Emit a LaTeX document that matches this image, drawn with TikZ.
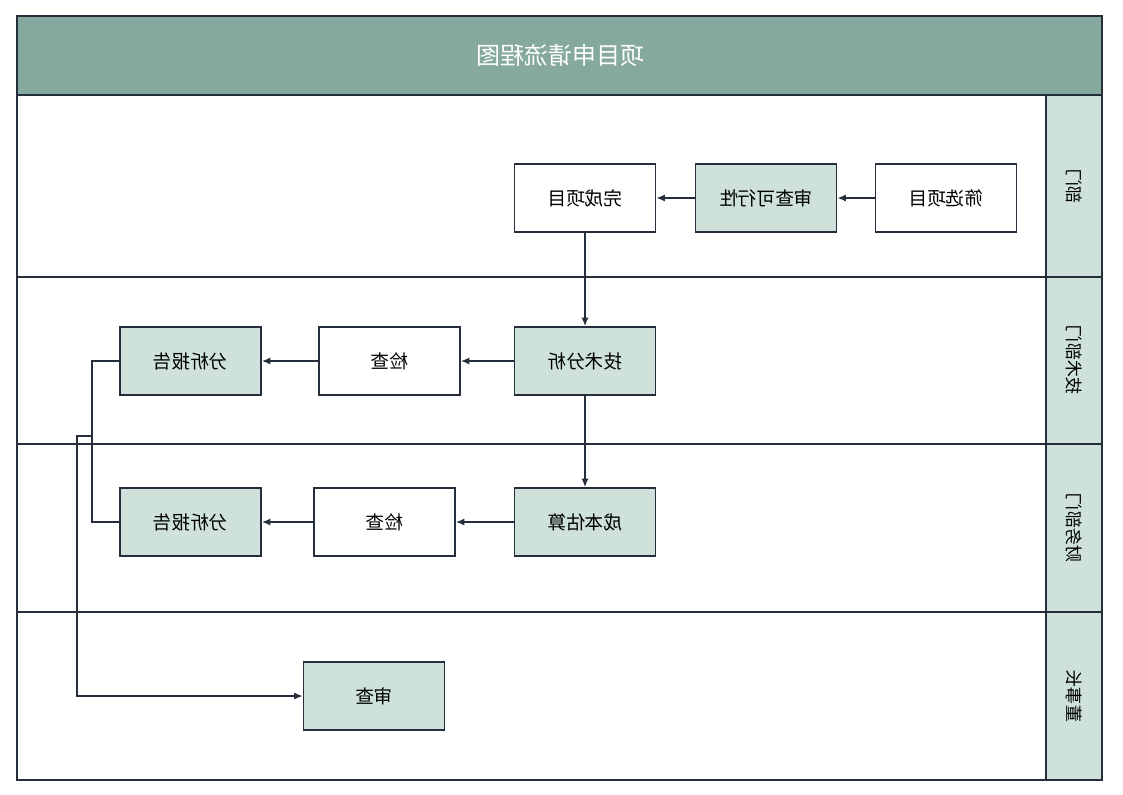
\documentclass[tikz,border=0pt]{standalone}
\usepackage{fontspec}
\usepackage{graphicx}
\setmainfont{Noto Sans CJK SC}
\usetikzlibrary{arrows.meta}
\definecolor{titlebg}{HTML}{86A99F}
\definecolor{lightbg}{HTML}{CEE2DB}
\definecolor{edge}{HTML}{262E3B}
\newcommand{\mirtext}[1]{\reflectbox{#1}}

\begin{document}
\begin{tikzpicture}[x=0.75pt,y=-0.75pt,
        lane/.style={draw=edge,line width=1.3pt},
        box/.style={draw=edge,line width=1.2pt,fill=white,minimum width=105.75pt,
            minimum height=51pt,inner sep=0pt,font=\fontsize{14}{16}\selectfont},
        greenbox/.style={box,fill=lightbg},
        lanelabel/.style={rotate=-90,font=\fontsize{13}{15}\selectfont},
        link/.style={draw=edge,line width=1.5pt},
        arr/.style={link,-{Latex[length=6.5pt,width=5.5pt]}}]
            \useasboundingbox (0,0) rectangle (1123,794);
            \fill[white] (0,0) rectangle (1123,794);
            % title and lanes
            \fill[titlebg] (17,16) rectangle (1102,95);
            \fill[lightbg] (1046,95) rectangle (1102,780);
            \draw[lane] (17,16) rectangle (1102,780);
            \foreach \y in {95,277,444,612}
                \draw[lane] (17,\y) -- (1102,\y);
            \draw[lane] (1046,95) -- (1046,780);
            \node[text=white,font=\fontsize{18}{20}\selectfont] (title) at (560,55) {\mirtext{项目申请流程图}};
            \node[lanelabel] (lane1) at (1074,186) {\mirtext{部门}};
            \node[lanelabel] (lane2) at (1074,360) {\mirtext{技术部门}};
            \node[lanelabel] (lane3) at (1074,528) {\mirtext{财务部门}};
            \node[lanelabel] (lane4) at (1074,696) {\mirtext{董事长}};
            % steps
            \node[box] (select) at (946,198) {\mirtext{筛选项目}};
            \node[greenbox] (feasible) at (766,198) {\mirtext{审查可行性}};
            \node[box] (finish) at (585,198) {\mirtext{完成项目}};
            \node[greenbox] (tech) at (585,361) {\mirtext{技术分析}};
            \node[box] (checka) at (389.5,361) {\mirtext{检查}};
            \node[greenbox] (reporta) at (190.5,361) {\mirtext{分析报告}};
            \node[greenbox] (cost) at (585,522) {\mirtext{成本估算}};
            \node[box] (checkb) at (384.5,522) {\mirtext{检查}};
            \node[greenbox] (reportb) at (190.5,522) {\mirtext{分析报告}};
            \node[greenbox] (review) at (374,696) {\mirtext{审查}};
            \coordinate (join) at (92,436);
            \coordinate (bend) at (77,436);
            % connectors
            \draw[arr] (select.west) -- (feasible.east);
            \draw[arr] (feasible.west) -- (finish.east);
            \draw[arr] (finish.south) -- (tech.north);
            \draw[arr] (tech.west) -- (checka.east);
            \draw[arr] (checka.west) -- (reporta.east);
            \draw[arr] (tech.south) -- (cost.north);
            \draw[arr] (cost.west) -- (checkb.east);
            \draw[arr] (checkb.west) -- (reportb.east);
            \draw[link] (reporta.west) -| (join) |- (reportb.west);
            \draw[arr] (join) -- (bend) |- (review.west);
        \end{tikzpicture}
\end{document}
